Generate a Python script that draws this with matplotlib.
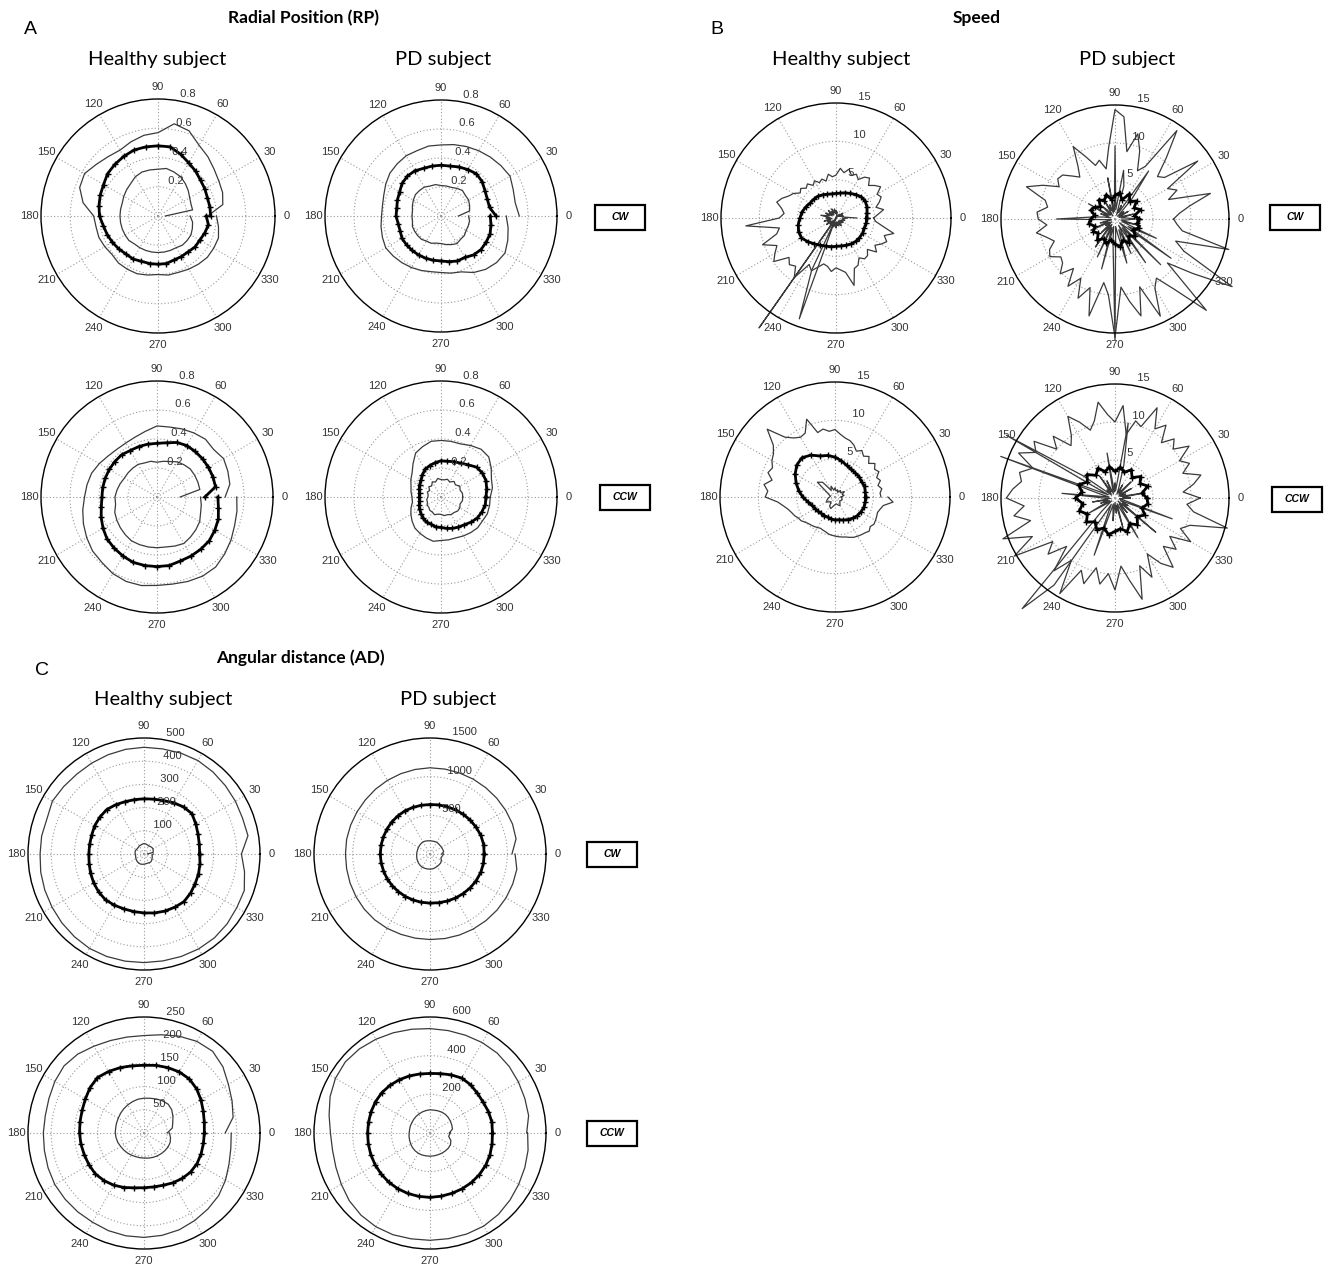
import numpy as np
import matplotlib
matplotlib.use("Agg")
import matplotlib.pyplot as plt
from matplotlib.patches import Rectangle

W, H = 1324, 1264

# ---------------- data (radius values, evenly spaced over 0..360 deg) ----------------
# Radial position (RP)
rp_h_cw_out = [0.34, 0.45, 0.47, 0.48, 0.50, 0.53, 0.56, 0.62, 0.64, 0.57, 0.56, 0.54, 0.52,
               0.53, 0.55, 0.58, 0.57, 0.52, 0.44, 0.43, 0.43, 0.42, 0.41, 0.42, 0.42, 0.42,
               0.41, 0.40, 0.41, 0.41, 0.42, 0.43, 0.44, 0.44, 0.44, 0.42, 0.40]
rp_h_cw_mean = [0.36, 0.36, 0.36, 0.37, 0.38, 0.40, 0.42, 0.45, 0.48, 0.48, 0.48, 0.48, 0.47,
                0.46, 0.45, 0.43, 0.42, 0.41, 0.40, 0.38, 0.37, 0.36, 0.35, 0.34, 0.34, 0.33,
                0.33, 0.33, 0.33, 0.32, 0.32, 0.32, 0.33, 0.33, 0.34, 0.35, 0.33]
rp_h_cw_in = [0.05, 0.24, 0.24, 0.25, 0.27, 0.29, 0.31, 0.32, 0.33, 0.32, 0.32, 0.32, 0.31,
              0.29, 0.28, 0.27, 0.26, 0.26, 0.26, 0.26, 0.26, 0.26, 0.26, 0.25, 0.25, 0.25,
              0.25, 0.25, 0.25, 0.25, 0.25, 0.26, 0.26, 0.26, 0.25, 0.24, 0.22]

rp_pd_cw_out = [0.54, 0.52, 0.53, 0.55, 0.54, 0.53, 0.52, 0.51, 0.50, 0.49, 0.49, 0.48, 0.48,
                0.47, 0.46, 0.44, 0.42, 0.41, 0.41, 0.42, 0.43, 0.44, 0.43, 0.42, 0.41, 0.40,
                0.39, 0.39, 0.40, 0.41, 0.45, 0.48, 0.50, 0.51, 0.49, 0.47, 0.45]
rp_pd_cw_mean = [0.38, 0.34, 0.34, 0.35, 0.37, 0.38, 0.37, 0.36, 0.35, 0.35, 0.35, 0.35, 0.36,
                 0.36, 0.35, 0.33, 0.32, 0.31, 0.31, 0.30, 0.30, 0.31, 0.31, 0.31, 0.31, 0.31,
                 0.31, 0.31, 0.32, 0.33, 0.33, 0.35, 0.36, 0.36, 0.36, 0.35, 0.34]
rp_pd_cw_in = [0.12, 0.20, 0.21, 0.22, 0.22, 0.23, 0.22, 0.21, 0.21, 0.21, 0.22, 0.22, 0.23,
               0.23, 0.23, 0.22, 0.21, 0.20, 0.20, 0.20, 0.21, 0.21, 0.21, 0.21, 0.20, 0.20,
               0.19, 0.19, 0.20, 0.21, 0.22, 0.21, 0.21, 0.20, 0.20, 0.20, 0.19]

rp_h_ccw_out = [0.47, 0.51, 0.52, 0.53, 0.51, 0.52, 0.51, 0.50, 0.49, 0.49, 0.46, 0.44, 0.43,
                0.43, 0.44, 0.46, 0.48, 0.49, 0.50, 0.52, 0.54, 0.56, 0.58, 0.59, 0.61, 0.62,
                0.62, 0.61, 0.61, 0.62, 0.63, 0.63, 0.61, 0.59, 0.57, 0.56, 0.55]
rp_h_ccw_mean = [0.33, 0.41, 0.41, 0.41, 0.41, 0.41, 0.41, 0.40, 0.38, 0.37, 0.37, 0.37, 0.37,
                 0.38, 0.38, 0.38, 0.38, 0.38, 0.38, 0.39, 0.41, 0.43, 0.45, 0.46, 0.47, 0.48,
                 0.48, 0.48, 0.48, 0.47, 0.47, 0.47, 0.47, 0.46, 0.45, 0.43, 0.42]
rp_h_ccw_in = [0.16, 0.30, 0.30, 0.30, 0.30, 0.29, 0.28, 0.26, 0.25, 0.24, 0.25, 0.25, 0.26,
               0.26, 0.26, 0.26, 0.27, 0.28, 0.29, 0.29, 0.31, 0.32, 0.33, 0.34, 0.35, 0.35,
               0.35, 0.35, 0.35, 0.36, 0.37, 0.36, 0.35, 0.34, 0.32, 0.31, 0.30]

rp_pd_ccw_out = [0.34, 0.36, 0.37, 0.40, 0.43, 0.43, 0.41, 0.39, 0.39, 0.39, 0.39, 0.37, 0.35,
                 0.30, 0.26, 0.24, 0.22, 0.21, 0.20, 0.20, 0.22, 0.24, 0.26, 0.28, 0.29, 0.30,
                 0.31, 0.30, 0.30, 0.30, 0.31, 0.32, 0.33, 0.33, 0.34, 0.34, 0.34]
rp_pd_ccw_mean = [0.31, 0.32, 0.33, 0.33, 0.32, 0.29, 0.27, 0.26, 0.25, 0.25, 0.24, 0.23, 0.22,
                  0.20, 0.18, 0.17, 0.16, 0.15, 0.15, 0.15, 0.16, 0.17, 0.18, 0.19, 0.20, 0.20,
                  0.21, 0.21, 0.22, 0.23, 0.24, 0.25, 0.27, 0.29, 0.30, 0.31, 0.31]
rp_pd_ccw_in = [0.15, 0.15, 0.14, 0.15, 0.13, 0.14, 0.12, 0.13, 0.12, 0.12, 0.13, 0.11, 0.12,
                0.10, 0.11, 0.09, 0.10, 0.09, 0.09, 0.10, 0.10, 0.11, 0.11, 0.12, 0.12, 0.13,
                0.12, 0.12, 0.13, 0.13, 0.14, 0.14, 0.15, 0.15, 0.14, 0.15, 0.15]

# Speed (outer / inner sampled every 5 deg, mean every 10 deg); negative = drawn opposite
sp_h_cw_out = [4.9, 5.5, 6.3, 5.4, 6.0, 6.5, 6.2, 7.1, 6.6, 6.0, 6.8, 6.5, 5.8, 6.3, 5.9, 6.6,
               6.0, 6.5, 5.6, 5.4, 5.8, 5.0, 5.4, 5.1, 5.6, 5.2, 5.8, 5.5, 6.0, 5.7, 6.4, 6.8,
               7.5, 8.0, 7.2, 6.8, 7.4, 11.8, 7.5, 8.0, 10.2, 8.5, 9.2, 9.9, 8.0, 8.6, 8.2, 9.5,
               7.0, 7.6, 6.8, 6.2, 6.4, 7.0, 6.5, 6.8, 7.2, 9.1, 7.0, 6.8, 6.0, 6.5, 6.4, 5.8,
               6.9, 6.2, 6.8, 7.3, 6.7, 7.8, 6.2, 5.2, 4.9]
sp_h_cw_mean = [4.0, 4.1, 4.3, 4.4, 4.3, 4.0, 3.7, 3.5, 3.3, 3.2, 3.2, 3.3, 3.5, 3.7, 3.8, 3.9,
                4.2, 4.5, 4.7, 5.0, 5.2, 5.2, 4.8, 4.4, 4.1, 3.9, 3.8, 3.7, 3.7, 3.8, 3.9, 4.0,
                4.0, 4.0, 3.9, 4.0, 4.0]
sp_h_cw_in = [2.7, 1.2, 0.8, 1.0, 0.6, 0.9, 0.5, 1.1, 0.4, 0.7, 0.3, -17.5, 0.2, -7.5, -14.0,
              0.3, 0.8, 0.5, 1.0, 0.6, 1.2, 0.7, 0.9, 1.3, 0.6, 1.0, 0.5, 1.4, 0.8, 1.1, 0.6,
              1.5, 0.9, 1.2, 2.0, 0.8, 1.3, 0.6, 1.0, 1.6, 0.7, 1.2, 0.9, 1.5, 0.6, 1.1, 0.8,
              1.4, 0.5, 1.0, 0.7, 1.2, 0.6, 0.9, 1.3, 0.5, 1.0, 0.8, 1.1, 0.6, 0.9, 1.2, 0.5,
              0.8, 1.0, 0.6, 1.1, 0.7, 0.9, 1.2, 0.8, 1.0, 1.5]

sp_pd_cw_out = [7.7, 8.5, 10.0, 13.0, 7.5, 9.0, 8.0, 13.3, 8.5, 7.9, 10.5, 14.2, 8.0, 7.0, 9.5,
                11.6, 9.0, 13.5, 14.4, 9.5, 6.7, 8.0, 7.5, 9.0, 11.0, 8.5, 7.2, 8.0, 9.0, 9.2,
                8.5, 10.5, 12.4, 9.5, 9.0, 10.3, 10.1, 9.0, 10.5, 9.3, 8.5, 9.5, 9.9, 8.7, 9.0,
                10.2, 8.5, 10.8, 9.0, 11.5, 9.6, 13.2, 8.5, 10.0, 15.6, 9.0, 11.0, 13.2, 9.5,
                14.1, 10.5, 9.5, 12.0, 17.0, 9.0, 12.5, 17.8, 10.0, 8.5, 15.5, 9.0, 8.2, 7.7]
sp_pd_cw_mean = [3.2, 2.6, 3.6, 2.9, 3.7, 3.0, 3.8, 2.7, 3.5, 3.1, 2.6, 3.4, 2.8, 3.3, 2.5, 3.1,
                 3.4, 2.7, 3.2, 3.5, 2.8, 3.3, 2.9, 3.6, 3.0, 3.4, 2.8, 3.3, 3.7, 3.0, 3.6, 2.9,
                 3.5, 2.8, 3.4, 3.0, 3.1]
sp_pd_cw_in = [3.0, 1.5, 0.8, 2.5, 1.0, 0.6, 2.0, 0.8, 1.5, 0.5, 3.5, 7.7, 1.0, 2.0, 0.6, 4.5,
               6.5, 1.2, 9.6, 1.0, 5.5, 0.8, 2.0, 1.2, 3.0, 0.5, 1.5, 2.5, 0.8, 1.0, 4.0, 1.0,
               2.0, 0.6, 1.5, 3.0, 7.7, 1.0, 0.5, 2.0, 1.0, 3.5, 0.8, 1.5, 0.6, 2.5, 1.0, 4.5,
               0.8, 5.5, 1.2, 6.8, 1.0, 3.0, 15.9, 1.0, 2.0, 6.0, 1.5, 5.0, 1.0, 7.0, 1.5, 8.5,
               0.8, 9.0, 2.0, 6.0, 1.0, 3.5, 0.8, 1.5, 2.5]

sp_h_ccw_out = [6.0, 5.9, 6.2, 5.8, 6.3, 6.0, 6.6, 6.3, 6.8, 6.2, 6.9, 6.5, 7.0, 6.6, 7.2, 7.6,
                7.8, 8.2, 8.8, 8.6, 9.0, 8.7, 10.8, 9.2, 9.0, 9.4, 10.2, 12.5, 10.5, 9.8, 9.5,
                9.0, 9.3, 8.5, 9.4, 8.8, 9.1, 7.5, 6.8, 6.3, 6.0, 5.8, 5.5, 5.4, 5.1, 4.9, 4.8,
                4.7, 4.6, 4.5, 4.6, 4.7, 4.9, 5.0, 5.1, 5.2, 5.3, 5.4, 5.6, 5.8, 5.9, 6.0, 6.1,
                6.3, 6.0, 6.2, 6.1, 6.0, 5.9, 6.1, 6.4, 7.6, 6.9]
sp_h_ccw_mean = [4.0, 4.0, 4.1, 4.0, 4.1, 4.1, 4.2, 4.4, 4.8, 5.2, 5.5, 5.7, 6.3, 6.7, 6.5, 6.0,
                 5.4, 4.8, 4.2, 3.6, 3.2, 3.0, 2.9, 2.8, 2.8, 2.8, 2.9, 3.0, 3.0, 3.2, 3.4, 3.6,
                 3.8, 3.9, 4.0, 4.0, 4.0]
sp_h_ccw_in = [0.8, 1.2, 1.0, 1.4, 0.9, 1.1, 0.7, 1.0, 0.8, 1.2, 0.9, 1.5, 1.0, 2.5, 3.0, 1.2,
               0.8, 0.6, 0.7, 0.9, 1.1, 1.3, 1.0, 0.8, 1.4, 1.6, 1.2, 1.0, 0.9, 1.1, 1.3, 1.0,
               0.8, 0.9, 1.0, 0.9, 0.8]

sp_pd_ccw_out = [11.2, 9.0, 10.5, 11.7, 9.5, 10.8, 9.8, 11.9, 10.0, 11.0, 9.5, 11.7, 10.5, 13.1,
                 10.0, 10.5, 8.5, 12.2, 10.0, 11.0, 12.8, 10.5, 9.5, 11.0, 12.4, 10.0, 9.0, 11.5,
                 10.0, 13.0, 12.0, 14.0, 11.5, 13.0, 12.5, 13.5, 14.3, 12.0, 13.5, 11.5, 15.7,
                 12.0, 15.3, 10.0, 11.5, 9.0, 12.5, 10.0, 14.5, 10.5, 12.0, 9.5, 11.5, 10.0, 12.1,
                 9.0, 11.0, 13.8, 9.5, 11.5, 8.5, 10.5, 11.9, 9.0, 10.5, 8.8, 11.5, 9.5, 10.5,
                 15.3, 10.5, 9.5, 11.2]
sp_pd_ccw_mean = [4.2, 3.6, 4.6, 3.8, 4.4, 3.5, 4.3, 3.6, 4.1, 3.5, 4.2, 3.7, 4.5, 3.9, 4.8, 4.2,
                  5.1, 4.4, 5.2, 4.3, 5.0, 4.2, 4.9, 4.1, 4.8, 4.2, 4.9, 4.4, 4.1, 4.7, 3.9, 4.6,
                  3.8, 4.5, 3.8, 4.4, 4.2]
sp_pd_ccw_in = [2.0, 1.0, 4.0, 0.8, 1.5, 0.6, 2.5, 1.0, 0.7, 3.0, 1.2, 0.8, 2.0, 0.6, 1.5, 4.5,
                10.0, 1.0, 2.0, 0.8, 6.0, 1.2, 0.6, 2.5, 1.0, 3.5, 0.8, 1.5, 0.6, 5.0, 16.5, 1.0,
                16.0, 2.0, 0.8, 7.0, 1.5, 0.6, 3.0, 1.0, 2.0, 0.8, 4.0, 1.2, 0.6, 2.5, 19.0, 14.0,
                1.0, 2.0, 8.0, 0.8, 1.5, 3.0, 0.6, 2.0, 1.0, 4.0, 0.8, 1.5, 6.0, 1.0, 2.5, 0.6,
                7.0, 1.2, 2.0, 0.8, 8.0, 1.5, 0.6, 1.0, 2.0]

# Angular distance (AD)
ad_h_cw_out = [420, 455, 452, 455, 458, 462, 465, 463, 460, 460, 458, 455, 452, 450, 452, 456,
               445, 448, 448, 452, 455, 458, 462, 466, 470, 470, 469, 468, 468, 470, 472, 472,
               468, 462, 460, 440, 420]
ad_h_cw_mean = [240, 242, 248, 258, 270, 265, 255, 245, 240, 238, 238, 240, 245, 250, 248, 245,
                240, 238, 238, 240, 245, 250, 255, 258, 255, 252, 252, 254, 258, 262, 265, 268,
                262, 255, 250, 245, 240]
ad_h_cw_in = [15, 40, 42, 45, 44, 42, 40, 42, 44, 45, 43, 41, 40, 38, 37, 38, 40, 39, 38, 37,
              38, 40, 42, 44, 45, 46, 45, 44, 43, 42, 44, 45, 43, 40, 38, 35, 40]

ad_pd_cw_out = [1060, 1130, 1135, 1130, 1125, 1120, 1118, 1115, 1115, 1115, 1110, 1105, 1100,
                1095, 1090, 1090, 1092, 1095, 1093, 1095, 1100, 1105, 1110, 1112, 1110, 1105,
                1105, 1106, 1110, 1115, 1120, 1125, 1130, 1135, 1138, 1140, 1100]
ad_pd_cw_mean = [700, 705, 700, 690, 680, 670, 660, 650, 645, 640, 640, 642, 645, 645, 645, 643,
                 642, 643, 643, 642, 640, 640, 638, 636, 635, 634, 634, 635, 640, 648, 658, 668,
                 680, 690, 698, 702, 700]
ad_pd_cw_in = [150, 180, 175, 172, 170, 172, 175, 172, 170, 171, 173, 178, 180, 178, 175, 172,
               170, 170, 172, 175, 180, 185, 190, 195, 198, 197, 196, 197, 195, 190, 185, 182,
               180, 170, 150, 160, 175]

ad_h_ccw_out = [175, 195, 202, 210, 222, 230, 228, 222, 215, 210, 210, 212, 216, 222, 225, 222,
                218, 216, 217, 218, 220, 222, 222, 222, 222, 224, 225, 225, 224, 222, 218, 214,
                210, 203, 195, 190, 188]
ad_h_ccw_mean = [130, 132, 136, 142, 148, 152, 152, 150, 148, 146, 147, 150, 153, 156, 152, 146,
                 142, 140, 139, 138, 137, 137, 137, 134, 130, 125, 120, 118, 118, 120, 124, 128,
                 131, 132, 131, 130, 130]
ad_h_ccw_in = [50, 62, 66, 72, 78, 81, 80, 78, 76, 75, 74, 72, 70, 68, 66, 64, 63, 62, 62, 61,
               60, 58, 57, 56, 55, 54, 54, 54, 55, 56, 57, 58, 59, 60, 60, 58, 55]

ad_pd_ccw_out = [500, 518, 522, 528, 535, 540, 540, 538, 538, 540, 545, 552, 560, 568, 572, 565,
                 550, 530, 515, 512, 518, 530, 545, 555, 560, 560, 556, 555, 555, 556, 556, 550,
                 540, 530, 522, 515, 505]
ad_pd_ccw_mean = [323, 325, 322, 318, 320, 326, 328, 320, 312, 308, 310, 314, 318, 322, 325, 325,
                  324, 323, 323, 324, 326, 328, 330, 332, 333, 333, 333, 333, 332, 332, 333, 334,
                  334, 333, 330, 326, 323]
ad_pd_ccw_in = [100, 118, 120, 122, 124, 125, 124, 122, 120, 120, 118, 116, 114, 112, 110, 108,
                108, 107, 108, 110, 112, 115, 118, 120, 121, 121, 120, 120, 120, 120, 121, 122,
                123, 122, 115, 98, 105]

# radial ticks
rp_ticks = [0.2, 0.4, 0.6, 0.8]
sp_ticks = [5, 10, 15]
ad_h_cw_ticks = [100, 200, 300, 400, 500]
ad_pd_cw_ticks = [500, 1000, 1500]
ad_h_ccw_ticks = [50, 100, 150, 200, 250]
ad_pd_ccw_ticks = [200, 400, 600]
theta_ticks = list(range(0, 360, 30))

fig = plt.figure(figsize=(W / 100, H / 100), dpi=100)
fig.patch.set_facecolor("white")


def polar_xy(vals):
    # angles evenly spread over the full turn; negative radius is drawn opposite (like MATLAB)
    r = np.asarray(vals, dtype=float)
    th = np.deg2rad(np.arange(len(r)) * 360.0 / (len(r) - 1))
    th = np.where(r < 0, th + np.pi, th)
    return th, np.abs(r)


def panel(cx, cy, R, ticks, outer, mean, inner):
    ax = fig.add_axes([(cx - R) / W, 1 - (cy + R) / H, 2 * R / W, 2 * R / H], projection="polar")
    rmax = ticks[-1]
    ax.set_rlim(0, rmax)
    ax.set_rticks(ticks[:-1])
    ax.set_yticklabels([])
    ax.set_thetagrids(theta_ticks, [str(t) for t in theta_ticks],
                      fontsize=8, color="#333333", family="Liberation Sans")
    ax.tick_params(axis="x", pad=-2.0)
    ax.grid(True, ls=(0, (1, 2)), color="#9a9a9a", lw=0.8)
    ax.spines["polar"].set_color("black")
    ax.spines["polar"].set_linewidth(1.0)
    rinc = ticks[1] - ticks[0]
    for t in ticks:
        lab = f"{t:g}"
        ax.text(np.deg2rad(82), t + rinc / 20, "  " + lab, ha="left", va="bottom",
                fontsize=8, color="#333333", family="Liberation Sans")
    for vals in (outer, inner):
        th, r = polar_xy(vals)
        ax.plot(th, r, color="#3a3a3a", lw=0.9, clip_on=False)
    th, r = polar_xy(mean)
    ax.plot(th, r, color="black", lw=2.0, marker="+", ms=4.5, mew=1.0, clip_on=False)
    return ax


# Panel A: radial position
panel(158, 216, 117, rp_ticks, rp_h_cw_out, rp_h_cw_mean, rp_h_cw_in)
panel(441, 216, 116, rp_ticks, rp_pd_cw_out, rp_pd_cw_mean, rp_pd_cw_in)
panel(157, 497, 116, rp_ticks, rp_h_ccw_out, rp_h_ccw_mean, rp_h_ccw_in)
panel(441, 497, 116, rp_ticks, rp_pd_ccw_out, rp_pd_ccw_mean, rp_pd_ccw_in)

# Panel B: speed
panel(836, 218, 115, sp_ticks, sp_h_cw_out, sp_h_cw_mean, sp_h_cw_in)
panel(1115, 219, 114, sp_ticks, sp_pd_cw_out, sp_pd_cw_mean, sp_pd_cw_in)
panel(835, 497, 115, sp_ticks, sp_h_ccw_out, sp_h_ccw_mean, sp_h_ccw_in)
panel(1115, 498, 114, sp_ticks, sp_pd_ccw_out, sp_pd_ccw_mean, sp_pd_ccw_in)

# Panel C: angular distance
panel(144, 854, 116, ad_h_cw_ticks, ad_h_cw_out, ad_h_cw_mean, ad_h_cw_in)
panel(430, 854, 116, ad_pd_cw_ticks, ad_pd_cw_out, ad_pd_cw_mean, ad_pd_cw_in)
panel(144, 1133, 116, ad_h_ccw_ticks, ad_h_ccw_out, ad_h_ccw_mean, ad_h_ccw_in)
panel(430, 1133, 116, ad_pd_ccw_ticks, ad_pd_ccw_out, ad_pd_ccw_mean, ad_pd_ccw_in)


def ftext(px, py, s, **kw):
    fig.text(px / W, 1 - py / H, s, ha="center", va="center", **kw)


for px, py, s in [(30, 30, "A"), (717, 30, "B"), (42, 670, "C")]:
    ftext(px, py, s, fontsize=14, family="Liberation Sans")
for px, py, s in [(303, 18, "Radial Position (RP)"), (977, 18, "Speed"),
                  (300, 658, "Angular distance (AD)")]:
    ftext(px, py, s, fontsize=12.5, fontweight="bold", family="Lato")
for px, py, s in [(157, 60, "Healthy subject"), (443, 60, "PD subject"),
                  (841, 60, "Healthy subject"), (1127, 60, "PD subject"),
                  (163, 700, "Healthy subject"), (448, 700, "PD subject")]:
    ftext(px, py, s, fontsize=14.5, family="Lato")

# direction boxes
for px, py, s in [(620, 217, "CW"), (625, 497, "CCW"), (1295, 217, "CW"),
                  (1297, 499, "CCW"), (612, 854, "CW"), (612, 1133, "CCW")]:
    bw, bh = 50, 25
    fig.add_artist(Rectangle(((px - bw / 2) / W, 1 - (py + bh / 2) / H), bw / W, bh / H,
                             transform=fig.transFigure, fill=False, ec="black", lw=1.6))
    ftext(px, py, s, fontsize=7.5, fontweight="bold", fontstyle="italic",
          family="Liberation Sans")

fig.savefig("out.png", dpi=100, facecolor="white")
